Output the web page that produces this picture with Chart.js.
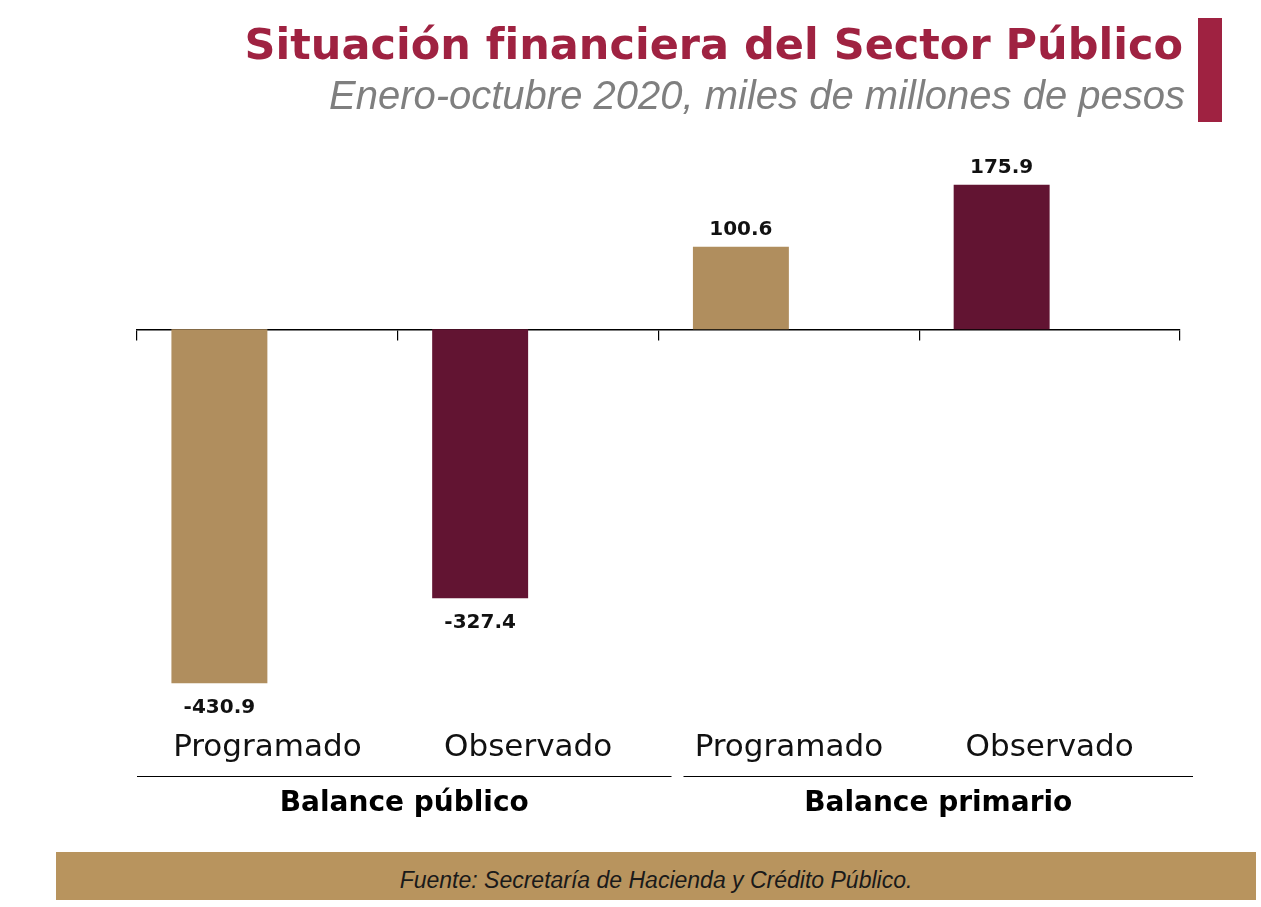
<!DOCTYPE html>
<html lang="es">
<head>
<meta charset="utf-8">
<title>Situación financiera del Sector Público</title>
<script src="https://cdn.jsdelivr.net/npm/chart.js@4"></script>
<style>
  body { margin: 0; background: #fff; width: 1261px; height: 907px; overflow: hidden; position: relative; }
  #chart { position: absolute; left: 0; top: 0; }
  #title { position: absolute; right: 78px; top: 23px; font: 700 43px "DejaVu Sans", sans-serif; color: #9f2241; white-space: nowrap; line-height: 1; }
  #subtitle { position: absolute; right: 76px; top: 75px; font: italic 40px "Liberation Sans", Arial, sans-serif; color: #7f7f7f; white-space: nowrap; line-height: 1; }
  #mark { position: absolute; left: 1198px; top: 18px; width: 24px; height: 104px; background: #9f2241; }
  #footer { position: absolute; left: 56px; top: 852px; width: 1200px; height: 48px; background: #b8945e; text-align: center; font: italic 23px "Liberation Sans", Arial, sans-serif; line-height: 56px; color: #1a1a1a; overflow: visible; }
</style>
</head>
<body>
<canvas id="chart" width="1261" height="907"></canvas>
<div id="title">Situación financiera del Sector Público</div>
<div id="subtitle">Enero-octubre 2020, miles de millones de pesos</div>
<div id="mark"></div>
<div id="footer">Fuente: Secretaría de Hacienda y Crédito Público.</div>
<script>
const categories = ['Programado', 'Observado', 'Programado', 'Observado'];
const values = [-430.9, -327.4, 100.6, 175.9];
const groups = ['Balance público', 'Balance primario'];
const groupSize = 2;

const tan = '#b08e5e';
const maroon = '#621432';
const font = '"DejaVu Sans", sans-serif';

// value labels over / under each bar
const valueLabels = {
  id: 'valueLabels',
  afterDatasetsDraw(chart) {
    const ctx = chart.ctx;
    const meta = chart.getDatasetMeta(0);
    ctx.save();
    ctx.font = '700 20px ' + font;
    ctx.fillStyle = '#111';
    ctx.textAlign = 'center';
    ctx.textBaseline = 'alphabetic';
    meta.data.forEach((bar, i) => {
      const v = values[i];
      const y = v >= 0 ? bar.y - 12 : bar.y + 30;
      ctx.fillText(v.toFixed(1), bar.x, y);
    });
    ctx.restore();
  }
};

// second level of the category axis: a line and a bold name per group
const groupAxis = {
  id: 'groupAxis',
  afterDraw(chart) {
    const ctx = chart.ctx;
    const xs = chart.scales.x;
    const step = xs.getPixelForValue(1) - xs.getPixelForValue(0);
    ctx.save();
    ctx.strokeStyle = '#000';
    ctx.lineWidth = 1.2;
    ctx.fillStyle = '#000';
    ctx.font = '700 28px ' + font;
    ctx.textAlign = 'center';
    ctx.textBaseline = 'alphabetic';
    groups.forEach((g, i) => {
      const first = i * groupSize;
      const last = first + groupSize - 1;
      const x1 = xs.getPixelForValue(first) - step / 2 + (i === 0 ? 0 : 25);
      const x2 = xs.getPixelForValue(last) + step / 2 + 13;
      ctx.beginPath();
      ctx.moveTo(x1, 776.5);
      ctx.lineTo(x2, 776.5);
      ctx.stroke();
      ctx.fillText(g, (x1 + x2) / 2, 811);
    });
    ctx.restore();
  }
};

new Chart(document.getElementById('chart'), {
  type: 'bar',
  data: {
    labels: categories,
    datasets: [
      {
        label: 'Valor',
        data: values,
        backgroundColor: [tan, maroon, tan, maroon],
        categoryPercentage: 0.736,
        barPercentage: 1
      },
      {
        label: '',
        data: categories.map(() => null),
        categoryPercentage: 0.736,
        barPercentage: 1
      }
    ]
  },
  options: {
    responsive: false,
    animation: false,
    devicePixelRatio: 1,
    layout: { padding: { top: 165, bottom: 128, left: 137, right: 81 } },
    plugins: {
      legend: { display: false },
      tooltip: { enabled: false }
    },
    scales: {
      y: { display: false, min: -450, max: 200 },
      x: {
        position: { y: 0 },
        offset: true,
        grid: { offset: true, drawOnChartArea: false, drawTicks: true, tickLength: 10, color: '#000', lineWidth: 1.2 },
        border: { display: true, color: '#000', width: 1.5 },
        ticks: { display: false }
      },
      x2: {
        axis: 'x',
        type: 'category',
        position: 'bottom',
        offset: true,
        grid: { display: false },
        border: { display: false },
        ticks: { padding: 22, color: '#111', font: { family: font, size: 31 } },
        afterFit: (s) => { s.height = 80; }
      }
    }
  },
  plugins: [valueLabels, groupAxis]
});
</script>
</body>
</html>
